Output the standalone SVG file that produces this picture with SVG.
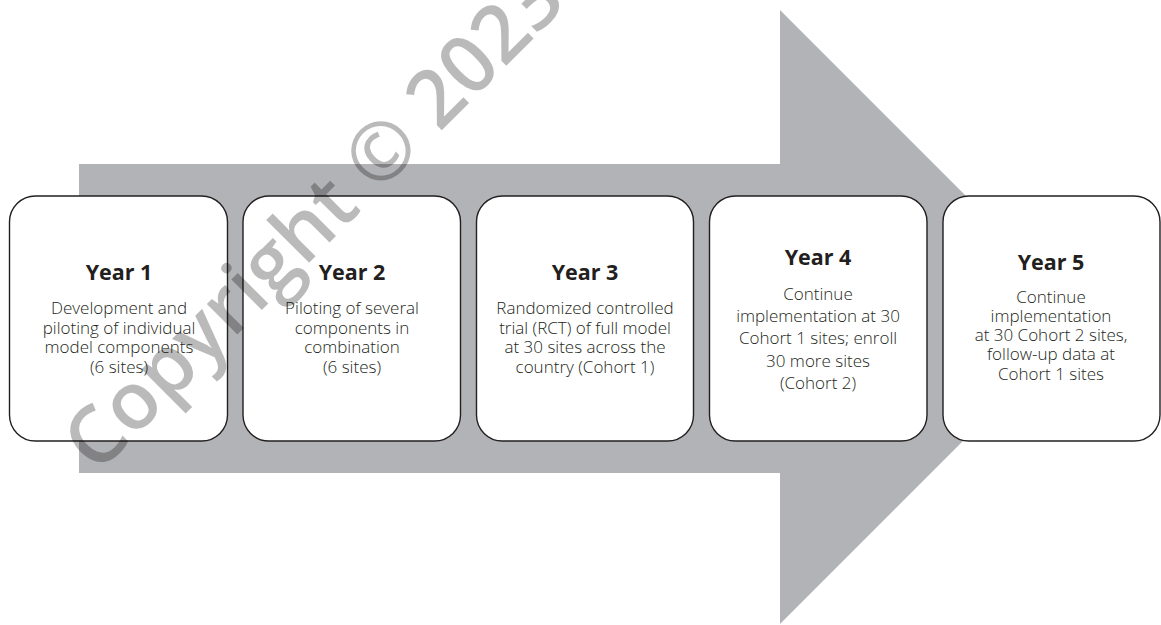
<svg xmlns="http://www.w3.org/2000/svg" width="1161" height="625" viewBox="0 0 1161 625">
  <style>
    .box { fill: #ffffff; stroke: #231f20; stroke-width: 1.4; }
    .title { font-family: "Open Sans", "Liberation Sans", sans-serif; font-weight: 700; font-size: 21.5px; fill: #231f20; text-anchor: middle; }
    .body { font-family: "Open Sans", "Liberation Sans", sans-serif; font-weight: 300; font-size: 17px; fill: #231f20; text-anchor: middle; }
    .wm { font-family: "Open Sans", "Liberation Sans", sans-serif; font-weight: 600; font-size: 80px; fill: #000000; fill-opacity: 0.27; }
  </style>
  <rect x="0" y="0" width="1161" height="625" fill="#ffffff"/>
  <g id="connectors">
    <polygon id="arrow" points="79,164 780,164 780,10 1087,317 780,624 780,473 79,473" fill="#b2b3b6"/>
  </g>
  <g id="year1">
    <rect class="box" x="9.5" y="196" width="218" height="245" rx="26" ry="26"/>
    <text class="title" x="119" y="280">Year 1</text>
    <text class="body" x="119" y="314">Development and</text>
    <text class="body" x="119" y="333.5">piloting of individual</text>
    <text class="body" x="119" y="353">model components</text>
    <text class="body" x="119" y="372.5">(6 sites)</text>
  </g>
  <g id="year2">
    <rect class="box" x="243" y="196" width="217.5" height="245" rx="26" ry="26"/>
    <text class="title" x="352" y="280">Year 2</text>
    <text class="body" x="352" y="314">Piloting of several</text>
    <text class="body" x="352" y="333.5">components in</text>
    <text class="body" x="352" y="353">combination</text>
    <text class="body" x="352" y="372.5">(6 sites)</text>
  </g>
  <g id="year3">
    <rect class="box" x="476.5" y="196" width="217" height="245" rx="26" ry="26"/>
    <text class="title" x="585" y="280">Year 3</text>
    <text class="body" x="585" y="314">Randomized controlled</text>
    <text class="body" x="585" y="333.5">trial (RCT) of full model</text>
    <text class="body" x="585" y="353">at 30 sites across the</text>
    <text class="body" x="585" y="372.5">country (Cohort 1)</text>
  </g>
  <g id="year4">
    <rect class="box" x="709.5" y="196" width="217.5" height="245" rx="26" ry="26"/>
    <text class="title" x="818" y="265">Year 4</text>
    <text class="body" x="818" y="300">Continue</text>
    <text class="body" x="818" y="322">implementation at 30</text>
    <text class="body" x="818" y="344">Cohort 1 sites; enroll</text>
    <text class="body" x="818" y="366.5">30 more sites</text>
    <text class="body" x="818" y="388.5">(Cohort 2)</text>
  </g>
  <g id="year5">
    <rect class="box" x="943" y="196" width="217" height="245" rx="26" ry="26"/>
    <text class="title" x="1051" y="269.5">Year 5</text>
    <text class="body" x="1051" y="302.5">Continue</text>
    <text class="body" x="1051" y="321.5">implementation</text>
    <text class="body" x="1051" y="340.5">at 30 Cohort 2 sites,</text>
    <text class="body" x="1051" y="360">follow-up data at</text>
    <text class="body" x="1051" y="379.5">Cohort 1 sites</text>
  </g>
  <g id="watermark">
    <text class="wm" transform="translate(97 475) rotate(-45)">Copyright © 2023</text>
  </g>
</svg>
